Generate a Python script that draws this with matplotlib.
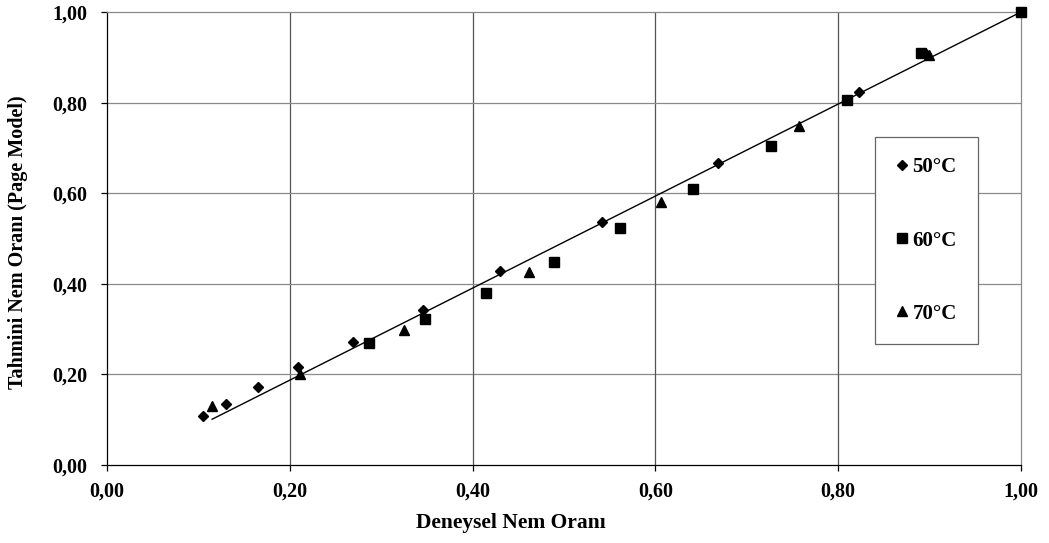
import matplotlib
matplotlib.use("Agg")
import matplotlib.pyplot as plt
from matplotlib.ticker import FuncFormatter

plt.rcParams["font.family"] = ["Liberation Serif", "DejaVu Serif"]
plt.rcParams["font.weight"] = "bold"

# --- data ---
x_50 = [0.105, 0.130, 0.165, 0.209, 0.269, 0.346, 0.430, 0.542, 0.669, 0.823, 0.896]
y_50 = [0.108, 0.135, 0.172, 0.216, 0.272, 0.342, 0.428, 0.536, 0.667, 0.823, 0.908]

x_60 = [0.287, 0.348, 0.415, 0.489, 0.561, 0.641, 0.726, 0.810, 0.891, 1.000]
y_60 = [0.270, 0.322, 0.380, 0.448, 0.523, 0.609, 0.705, 0.806, 0.910, 1.000]

x_70 = [0.115, 0.211, 0.325, 0.462, 0.606, 0.757, 0.899]
y_70 = [0.130, 0.201, 0.298, 0.426, 0.580, 0.748, 0.905]

fit_x = [0.115, 1.000]
fit_y = [0.101, 1.000]

ticks = [0.0, 0.2, 0.4, 0.6, 0.8, 1.0]

W, H = 1049, 543
fig = plt.figure(figsize=(W / 100, H / 100), dpi=100)
ax = fig.add_axes([107 / W, 1 - 465 / H, 914 / W, 453 / H])

# grid
for t in ticks[1:-1]:
    ax.axvline(t, color="#555555", linewidth=0.9, zorder=0)
    ax.axhline(t, color="#8a8a8a", linewidth=0.9, zorder=0)

ax.plot(fit_x, fit_y, color="black", linewidth=1.0, zorder=2)
ax.plot(x_50, y_50, linestyle="none", marker="D", markersize=5.5,
        color="black", label="50°C", zorder=3, clip_on=False)
ax.plot(x_60, y_60, linestyle="none", marker="s", markersize=7.5,
        color="black", label="60°C", zorder=3, clip_on=False)
ax.plot(x_70, y_70, linestyle="none", marker="^", markersize=7.5,
        color="black", label="70°C", zorder=3, clip_on=False)

ax.set_xlim(0, 1)
ax.set_ylim(0, 1)
ax.set_xticks(ticks)
ax.set_yticks(ticks)
fmt = FuncFormatter(lambda v, p: f"{v:.2f}".replace(".", ","))
ax.xaxis.set_major_formatter(fmt)
ax.yaxis.set_major_formatter(fmt)
ax.tick_params(direction="out", length=4, width=0.9, labelsize=14.5)
ax.tick_params(axis="y", pad=10)
ax.tick_params(axis="x", pad=8)
for lab in ax.get_xticklabels() + ax.get_yticklabels():
    lab.set_fontweight("bold")

ax.spines["left"].set_color("black")
ax.spines["bottom"].set_color("black")
ax.spines["top"].set_color("#8a8a8a")
ax.spines["right"].set_color("#8a8a8a")
for s in ax.spines.values():
    s.set_linewidth(0.9)

# axis titles placed where the reference has them
fig.text(511 / W, 1 - 523 / H, "Deneysel Nem Oranı", fontsize=15.5,
         fontweight="bold", ha="center", va="center")
fig.text(18 / W, 1 - 242 / H, "Tahmini Nem Oranı (Page Model)", fontsize=14.5,
         fontweight="bold", ha="center", va="center", rotation=90)

leg = ax.legend(loc="center", bbox_to_anchor=(0.840, 0.267, 0.113, 0.457),
                fancybox=False, framealpha=1, edgecolor="#666666",
                prop={"size": 15, "weight": "bold"}, labelspacing=2.55,
                handlelength=0.6, handletextpad=0.2, borderpad=1.0,
                borderaxespad=0)
leg.get_frame().set_linewidth(0.9)

fig.savefig("out.png", dpi=100)
